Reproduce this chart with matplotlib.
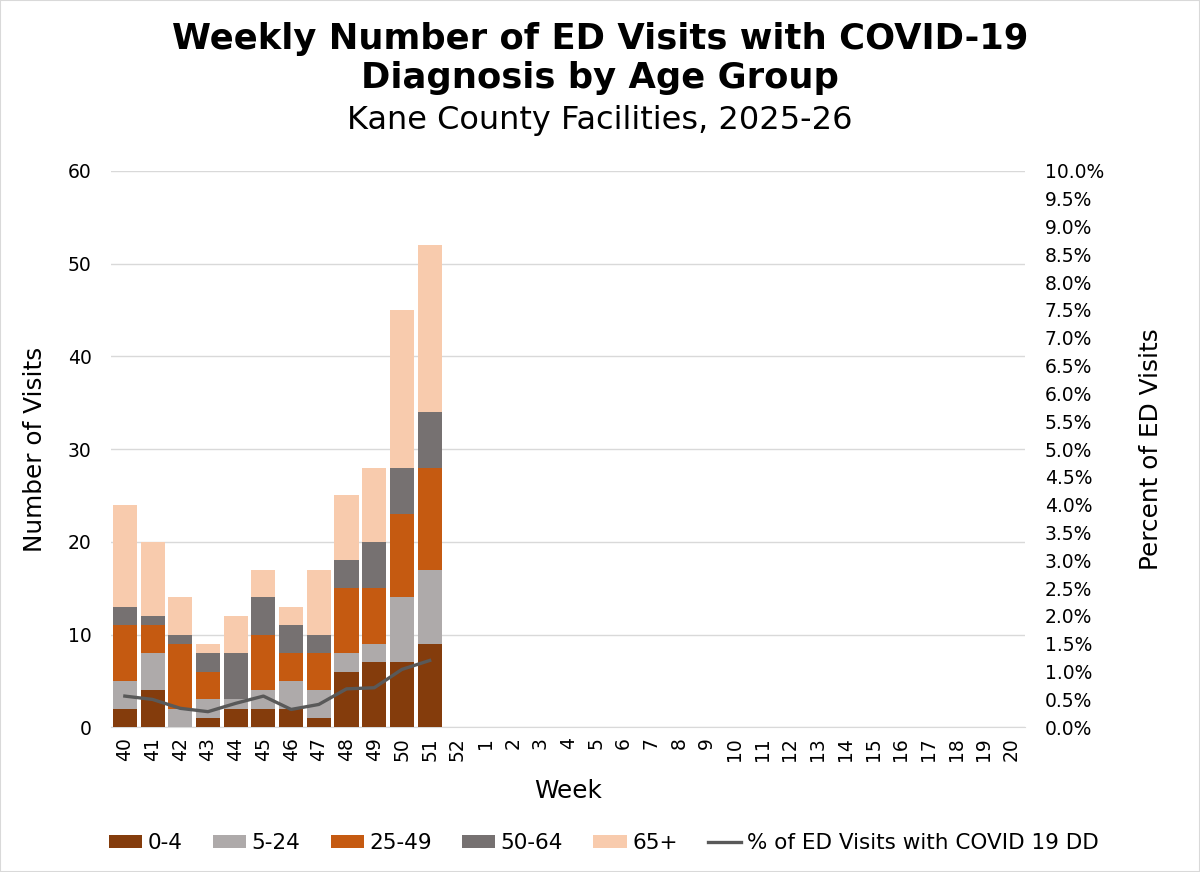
import numpy as np
import matplotlib.pyplot as plt

weeks = ['40', '41', '42', '43', '44', '45', '46', '47', '48', '49', '50', '51', '52',
         '1', '2', '3', '4', '5', '6', '7', '8', '9', '10', '11', '12', '13', '14',
         '15', '16', '17', '18', '19', '20']

# values for weeks 40-51 (rest not reported yet)
age_0_4 = [2, 4, 0, 1, 2, 2, 2, 1, 6, 7, 7, 9]
age_5_24 = [3, 4, 2, 2, 1, 2, 3, 3, 2, 2, 7, 8]
age_25_49 = [6, 3, 7, 3, 0, 6, 3, 4, 7, 6, 9, 11]
age_50_64 = [2, 1, 1, 2, 5, 4, 3, 2, 3, 5, 5, 6]
age_65 = [11, 8, 4, 1, 4, 3, 2, 7, 7, 8, 17, 18]
pct_ed = [0.56, 0.50, 0.34, 0.28, 0.43, 0.56, 0.32, 0.41, 0.69, 0.71, 1.04, 1.20]

groups = [('0-4', age_0_4, '#843C0C'),
          ('5-24', age_5_24, '#AEAAAA'),
          ('25-49', age_25_49, '#C55A11'),
          ('50-64', age_50_64, '#767171'),
          ('65+', age_65, '#F8CBAD')]

fig = plt.figure(figsize=(12, 8.72), dpi=100)
ax = fig.add_axes([0.0925, 0.166, 0.762, 0.638])
ax2 = ax.twinx()

x = np.arange(len(weeks))
xd = x[:len(age_0_4)]
bottom = np.zeros(len(age_0_4))
handles = []
for name, vals, col in groups:
    b = ax.bar(xd, vals, 0.87, bottom=bottom, color=col, label=name, zorder=3)
    bottom += np.array(vals)
    handles.append(b)

ln, = ax2.plot(xd, np.array(pct_ed) / 100, color='#595959', lw=2.4, zorder=4,
               label='% of ED Visits with COVID 19 DD')
handles.append(ln)

ax.set_xlim(-0.5, len(weeks) - 0.5)
ax.set_ylim(0, 60)
ax.set_yticks(range(0, 61, 10))
ax.yaxis.grid(True, color='#D9D9D9', lw=1, zorder=0)
ax.set_xticks(x)
ax.set_xticklabels(weeks, rotation=90, fontsize=13.5)
ax.tick_params(axis='y', labelsize=13.5, length=0, pad=14)
ax.tick_params(axis='x', length=0, pad=7)
for s in ['top', 'right', 'left']:
    ax.spines[s].set_visible(False)
ax.spines['bottom'].set_color('#D9D9D9')

ax2.set_ylim(0, 0.10)
ticks2 = np.arange(0, 0.1001, 0.005)
ax2.set_yticks(ticks2)
ax2.set_yticklabels(['%.1f%%' % (v * 100) for v in ticks2])
ax2.tick_params(axis='y', labelsize=13.5, length=0, pad=14)
for s in ['top', 'right', 'left', 'bottom']:
    ax2.spines[s].set_visible(False)

ax.set_xlabel('Week', fontsize=17.8, labelpad=13)
ax.set_ylabel('Number of Visits', fontsize=17.8, labelpad=15)
ax2.set_ylabel('Percent of ED Visits', fontsize=17.8, labelpad=25)

fig.text(0.5, 0.933, 'Weekly Number of ED Visits with COVID-19\nDiagnosis by Age Group',
         ha='center', va='center', fontsize=25.5, fontweight='bold', linespacing=1.2)
fig.text(0.5, 0.862, 'Kane County Facilities, 2025-26', ha='center', va='center', fontsize=23)

fig.legend(handles=handles, loc='center', bbox_to_anchor=(0.503, 0.033), ncol=6,
           frameon=False, fontsize=15.5, handlelength=1.55, handleheight=0.55,
           columnspacing=1.4, handletextpad=0.25)

fig.patches.append(plt.Rectangle((0, 0), 1, 1, transform=fig.transFigure,
                                 fill=False, edgecolor='#D9D9D9', lw=1.5))

fig.savefig('out.png', dpi=100)
